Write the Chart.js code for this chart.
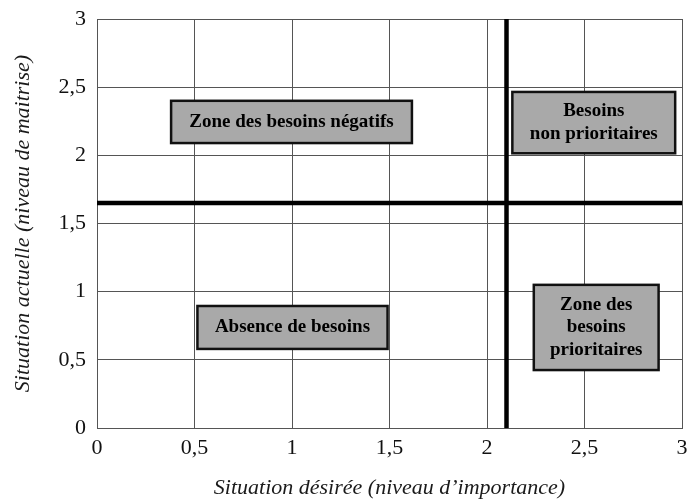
<!DOCTYPE html>
<html>
<head>
<meta charset="utf-8">
<script src="https://cdn.jsdelivr.net/npm/chart.js@4"></script>
<style>
  html, body { margin: 0; padding: 0; background: #fff; }
  #wrap { width: 691px; height: 502px; }
</style>
</head>
<body>
<div id="wrap"><canvas id="quadChart"></canvas></div>
<script>
// axis ticks
const xTickLabels = ['0', '0,5', '1', '1,5', '2', '2,5', '3'];
const yTickLabels = ['0', '0,5', '1', '1,5', '2', '2,5', '3'];

// threshold lines (data units)
const thresholdX = 2.1;
const thresholdY = 1.65;

// zones: label lines and bounds in data units
const zoneLabels = [
    ['Zone des besoins négatifs'],
    ['Besoins', 'non prioritaires'],
    ['Absence de besoins'],
    ['Zone des', 'besoins', 'prioritaires']
];
const zoneX0 = [0.38, 2.13, 0.515, 2.24];
const zoneX1 = [1.615, 2.965, 1.49, 2.88];
const zoneY0 = [2.09, 2.015, 0.58, 0.425];
const zoneY1 = [2.40, 2.465, 0.895, 1.05];

// Draw the grey labelled boxes on top of the grid
const zonesPlugin = {
    id: 'zones',
    afterDatasetsDraw(chart) {
        const ctx = chart.ctx;
        const xs = chart.scales.x;
        const ys = chart.scales.y;
        ctx.save();
        zoneLabels.forEach((lines, i) => {
            const l = xs.getPixelForValue(zoneX0[i]);
            const r = xs.getPixelForValue(zoneX1[i]);
            const t = ys.getPixelForValue(zoneY1[i]);
            const b = ys.getPixelForValue(zoneY0[i]);
            ctx.fillStyle = '#a9a9a9';
            ctx.fillRect(l, t, r - l, b - t);
            ctx.lineWidth = 2.5;
            ctx.strokeStyle = '#111';
            ctx.strokeRect(l, t, r - l, b - t);
            ctx.fillStyle = '#000';
            ctx.font = 'bold 19px "Liberation Serif", "Times New Roman", serif';
            ctx.textAlign = 'center';
            ctx.textBaseline = 'middle';
            const lh = 22.5;
            const cx = (l + r) / 2;
            const cy = (t + b) / 2;
            lines.forEach((txt, j) => {
                ctx.fillText(txt, cx, cy + (j - (lines.length - 1) / 2) * lh);
            });
        });
        ctx.restore();
    }
};

const serif = '"Liberation Serif", "Times New Roman", serif';

new Chart(document.getElementById('quadChart'), {
    type: 'scatter',
    data: {
        datasets: [{
            data: [{x: thresholdX, y: 0}, {x: thresholdX, y: 3}],
            showLine: true,
            borderColor: '#000',
            borderWidth: 4.5,
            pointRadius: 0
        }, {
            data: [{x: 0, y: thresholdY}, {x: 3, y: thresholdY}],
            showLine: true,
            borderColor: '#000',
            borderWidth: 4.5,
            pointRadius: 0
        }]
    },
    options: {
        responsive: true,
        maintainAspectRatio: false,
        animation: false,
        layout: {
            padding: {left: 0, right: 9, top: 19, bottom: 0}
        },
        plugins: {
            legend: {display: false},
            tooltip: {enabled: false}
        },
        scales: {
            x: {
                type: 'linear',
                min: 0,
                max: 3,
                afterFit: function(scale) {
                    scale.height = 74;
                    scale.paddingLeft = 0;
                    scale.paddingRight = 0;
                },
                grid: {color: '#555', lineWidth: 1, drawTicks: false},
                border: {color: '#555', width: 1},
                ticks: {
                    stepSize: 0.5,
                    padding: 7,
                    color: '#111',
                    font: {family: serif, size: 22},
                    callback: function(value, index) { return xTickLabels[index]; }
                },
                title: {
                    display: true,
                    text: 'Situation désirée (niveau d’importance)',
                    color: '#1a1a1a',
                    font: {family: serif, size: 22, style: 'italic'},
                    padding: {top: 0, bottom: 1}
                }
            },
            y: {
                type: 'linear',
                min: 0,
                max: 3,
                afterFit: function(scale) {
                    scale.width = 97;
                    scale.paddingTop = 0;
                    scale.paddingBottom = 0;
                },
                grid: {color: '#555', lineWidth: 1, drawTicks: false},
                border: {color: '#555', width: 1},
                ticks: {
                    stepSize: 0.5,
                    padding: 11,
                    color: '#111',
                    font: {family: serif, size: 22},
                    callback: function(value, index) { return yTickLabels[index]; }
                },
                title: {
                    display: true,
                    text: 'Situation actuelle (niveau de maitrise)',
                    color: '#1a1a1a',
                    font: {family: serif, size: 22, style: 'italic'},
                    padding: {top: 10, bottom: 0}
                }
            }
        }
    },
    plugins: [zonesPlugin]
});
</script>
</body>
</html>
